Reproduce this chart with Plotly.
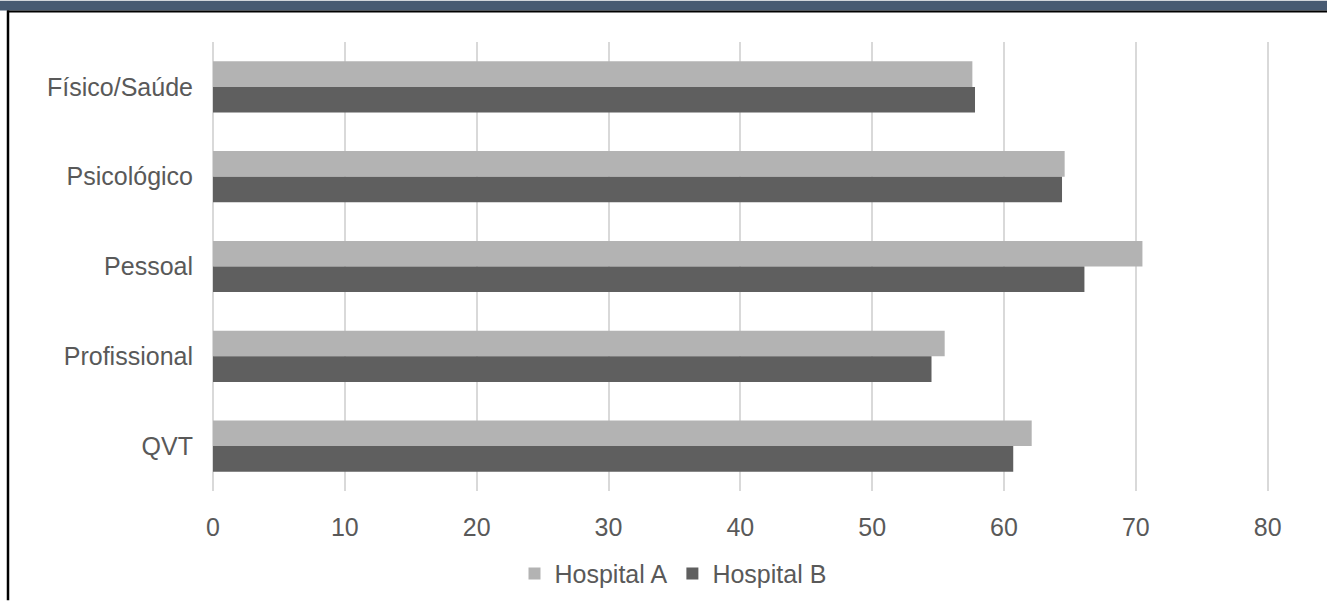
import plotly.graph_objects as go

categories = ["Físico/Saúde", "Psicológico", "Pessoal", "Profissional", "QVT"]
hospital_a = [57.6, 64.6, 70.5, 55.5, 62.1]
hospital_b = [57.8, 64.4, 66.1, 54.5, 60.7]
x_ticks = [0, 10, 20, 30, 40, 50, 60, 70, 80]

W, H = 1327, 609
L, R, T, B = 213, 58, 42, 111
PW, PH = W - L - R, H - T - B

def px_x(px):
    return (px - L) / PW

def px_y(py):
    return (H - B - py) / PH

FONT = "Liberation Sans, Arial, sans-serif"
TXT = "#595959"

fig = go.Figure()
fig.add_trace(go.Bar(y=categories, x=hospital_a, orientation="h", name="Hospital A",
                     marker=dict(color="#b3b3b3", line=dict(width=0))))
fig.add_trace(go.Bar(y=categories, x=hospital_b, orientation="h", name="Hospital B",
                     marker=dict(color="#5f5f5f", line=dict(width=0))))

fig.update_layout(
    width=W, height=H,
    margin=dict(l=L, r=R, t=T, b=B, pad=0),
    paper_bgcolor="white", plot_bgcolor="white",
    barmode="group", bargap=0.43, bargroupgap=0,
    font=dict(family=FONT, size=25, color=TXT),
    showlegend=True,
    legend=dict(orientation="h", x=px_x(673), xanchor="center", y=px_y(582), yanchor="middle",
                font=dict(family=FONT, size=25, color=TXT), bgcolor="rgba(0,0,0,0)",
                traceorder="normal", itemsizing="constant"),
    xaxis=dict(range=[0, 80.1], tickvals=x_ticks, ticktext=[str(v) for v in x_ticks],
               showgrid=True, gridcolor="#d9d9d9", gridwidth=1.5,
               zeroline=True, zerolinecolor="#d9d9d9", zerolinewidth=1.5,
               showline=False, ticks="", ticklabelstandoff=19,
               tickfont=dict(family=FONT, size=25, color=TXT), fixedrange=True),
    yaxis=dict(categoryorder="array", categoryarray=categories, autorange="reversed",
               showgrid=False, zeroline=False, showline=False, ticks="",
               ticklabelstandoff=19,
               tickfont=dict(family=FONT, size=25, color=TXT), fixedrange=True),
    shapes=[
        dict(type="rect", xref="paper", yref="paper",
             x0=px_x(0), x1=px_x(W), y0=px_y(0), y1=px_y(10),
             fillcolor="#475a72", line=dict(width=0), layer="above"),
        dict(type="line", xref="paper", yref="paper",
             x0=px_x(7), x1=px_x(W), y0=px_y(11), y1=px_y(11),
             line=dict(color="black", width=2), layer="above"),
        dict(type="line", xref="paper", yref="paper",
             x0=px_x(8), x1=px_x(8), y0=px_y(10), y1=px_y(H),
             line=dict(color="black", width=2.5), layer="above"),
    ],
)

fig.write_html("out.html")
